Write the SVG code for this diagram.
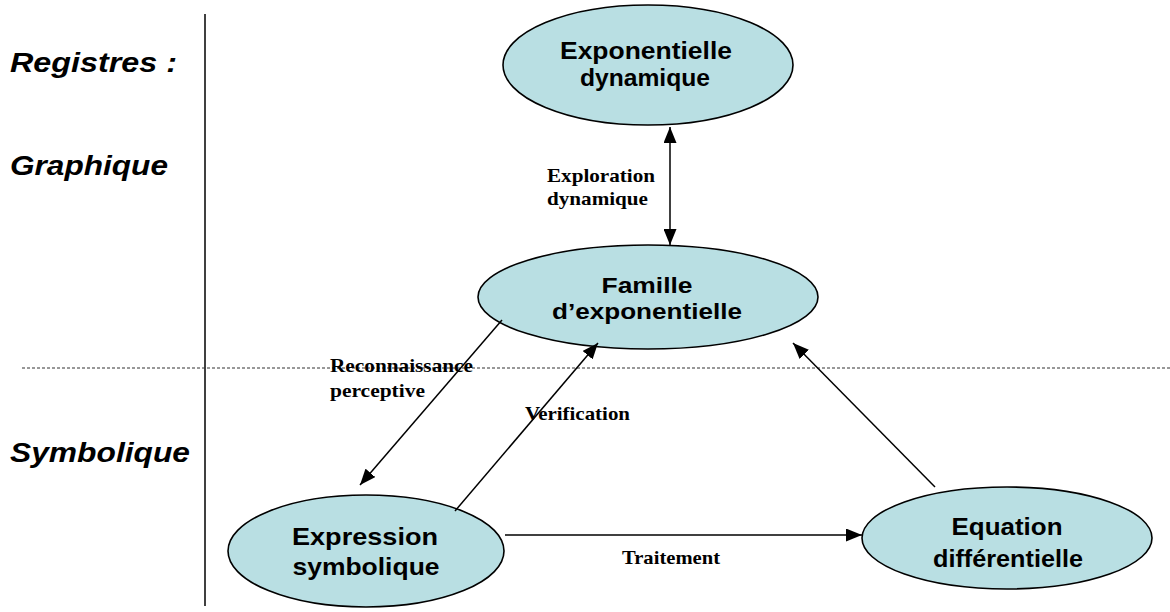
<svg xmlns="http://www.w3.org/2000/svg" width="1170" height="612" viewBox="0 0 1170 612">
<style>
.node ellipse{fill:#B9DFE3;stroke:#000;stroke-width:1.6}
.nt{font-family:"Liberation Sans",Arial,sans-serif;font-weight:bold;font-size:24px;fill:#000;text-anchor:middle}
.nt2{font-size:22px}
.reg{font-family:"Liberation Sans",Arial,sans-serif;font-weight:bold;font-style:italic;font-size:27px;fill:#000}
.lbl{font-family:"Liberation Serif","Times New Roman",serif;font-weight:bold;font-size:19px;fill:#000}
.conn line{stroke:#000;stroke-width:1.5;fill:none}
</style>
<defs>
<marker id="ah" markerUnits="userSpaceOnUse" markerWidth="17" markerHeight="13" refX="16" refY="6.5" orient="auto-start-reverse">
<path d="M0,0 L16,6.5 L0,13 Z" fill="#000"/>
</marker>
</defs>
<rect width="1170" height="612" fill="#fff"/>
<g id="frame">
<line x1="205" y1="14" x2="205" y2="606" stroke="#000" stroke-width="1.5"/>
<line x1="22" y1="368" x2="1170" y2="368" stroke="#333" stroke-width="1" stroke-dasharray="3,2"/>
<text class="reg" x="10" y="72" textLength="167" lengthAdjust="spacingAndGlyphs">Registres :</text>
<text class="reg" x="10" y="175" textLength="158" lengthAdjust="spacingAndGlyphs">Graphique</text>
<text class="reg" x="10" y="462" textLength="180" lengthAdjust="spacingAndGlyphs">Symbolique</text>
</g>
<g id="n-expdyn" class="node">
<ellipse cx="648" cy="65" rx="145" ry="60"/>
<text class="nt" x="646" y="59" textLength="172" lengthAdjust="spacingAndGlyphs">Exponentielle</text>
<text class="nt" x="645" y="86" textLength="130" lengthAdjust="spacingAndGlyphs">dynamique</text>
</g>
<g id="n-famille" class="node">
<ellipse cx="648" cy="297" rx="170" ry="52"/>
<text class="nt nt2" x="647" y="293" textLength="91" lengthAdjust="spacingAndGlyphs">Famille</text>
<text class="nt nt2" x="647" y="319" textLength="190" lengthAdjust="spacingAndGlyphs">d’exponentielle</text>
</g>
<g id="n-expr" class="node">
<ellipse cx="366" cy="551" rx="138" ry="56"/>
<text class="nt" x="365" y="545" textLength="146" lengthAdjust="spacingAndGlyphs">Expression</text>
<text class="nt" x="366" y="575" textLength="147" lengthAdjust="spacingAndGlyphs">symbolique</text>
</g>
<g id="n-equa" class="node">
<ellipse cx="1007" cy="538" rx="145" ry="51"/>
<text class="nt" x="1007" y="535" textLength="111" lengthAdjust="spacingAndGlyphs">Equation</text>
<text class="nt" x="1008" y="567" textLength="150" lengthAdjust="spacingAndGlyphs">différentielle</text>
</g>
<g id="connectors" class="conn">
<line x1="670" y1="127" x2="670" y2="245" marker-start="url(#ah)" marker-end="url(#ah)"/>
<line x1="502" y1="320" x2="360" y2="485" marker-end="url(#ah)"/>
<line x1="455" y1="511" x2="598" y2="343" marker-end="url(#ah)"/>
<line x1="505" y1="535" x2="862" y2="535" marker-end="url(#ah)"/>
<line x1="935" y1="487" x2="793" y2="343" marker-end="url(#ah)"/>
</g>
<g id="labels">
<text class="lbl" x="547" y="182" textLength="108" lengthAdjust="spacingAndGlyphs">Exploration</text>
<text class="lbl" x="547" y="205" textLength="101" lengthAdjust="spacingAndGlyphs">dynamique</text>
<text class="lbl" x="330" y="372" textLength="143" lengthAdjust="spacingAndGlyphs">Reconnaissance</text>
<text class="lbl" x="330" y="397" textLength="95" lengthAdjust="spacingAndGlyphs">perceptive</text>
<text class="lbl" x="525" y="420" textLength="105" lengthAdjust="spacingAndGlyphs">Verification</text>
<text class="lbl" x="622" y="564" textLength="98" lengthAdjust="spacingAndGlyphs">Traitement</text>
</g>
</svg>
